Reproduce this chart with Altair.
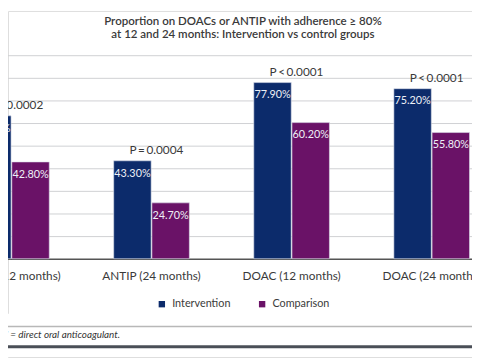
import altair as alt
import pandas as pd

groups = ["ANTIP (12 months)", "ANTIP (24 months)", "DOAC (12 months)", "DOAC (24 months)"]
series = ["Intervention", "Comparison"]
intervention = [63.2, 43.3, 77.9, 75.2]
comparison = [42.8, 24.7, 60.2, 55.8]
p_values = ["P\u2009=\u20090.0002", "P\u2009=\u20090.0004", "P\u2009<\u20090.0001", "P\u2009<\u20090.0001"]
title_lines = ["Proportion on DOACs or ANTIP with adherence \u2265 80%",
               "at 12 and 24 months: Intervention vs control groups"]
footnote = "DOAC = direct oral anticoagulant."
colors = ["#0c2b6b", "#6a1267"]
grid_values = [10, 20, 30, 40, 50, 60, 70, 80, 90]

rows = []
for g, a, b in zip(groups, intervention, comparison):
    rows.append({"group": g, "series": "Intervention", "value": a, "label": f"{a:.2f}%"})
    rows.append({"group": g, "series": "Comparison", "value": b, "label": f"{b:.2f}%"})
bars_df = pd.DataFrame(rows)
p_df = pd.DataFrame({"group": groups, "value": intervention, "p": p_values})
grid_df = pd.DataFrame({"value": grid_values})

W, H = 472, 352
FONT = "Lato"
TEXT = "#3a3a3a"
PANEL = "#e1e2e4"

xscale = alt.Scale(domain=groups, range=[-67.75, 502.25], paddingInner=0.46, paddingOuter=0.23)
yscale = alt.Scale(domain=[0, 90], range=[252, 45], nice=False)
offscale = alt.Scale(domain=series, paddingInner=0.02)

x_axis = alt.Axis(title=None, orient="bottom", offset=-100, domainColor="#555555",
                  domainWidth=1.5, ticks=False, labelFont=FONT, labelFontSize=12,
                  labelColor=TEXT, labelPadding=12, labelAngle=0, grid=False)


def xe():
    return alt.X("group:N", scale=xscale, sort=groups, axis=x_axis)


def ye():
    return alt.Y("value:Q", scale=yscale, axis=None)


def oe():
    return alt.XOffset("series:N", scale=offscale, sort=series)


one = alt.Data(values=[{}])

white_bottom = alt.Chart(one).mark_rect(color="white").encode(
    x=alt.value(0), x2=alt.value(W), y=alt.value(308), y2=alt.value(H))

grid = alt.Chart(grid_df).mark_rule(color="#cfd0d3", strokeWidth=1, yOffset=0.5).encode(
    y=ye(), x=alt.value(0), x2=alt.value(W))

bars = alt.Chart(bars_df).mark_bar(stroke="#dde1ea", strokeWidth=0.6).encode(
    x=xe(),
    xOffset=oe(),
    y=ye(),
    color=alt.Color("series:N", sort=series,
                    scale=alt.Scale(domain=series, range=colors),
                    legend=alt.Legend(title=None, orient="none", legendX=151, legendY=292.5,
                                      direction="horizontal", symbolType="square",
                                      symbolSize=42, symbolStrokeWidth=0,
                                      labelFont=FONT, labelFontSize=11, labelColor=TEXT,
                                      labelOffset=5, columnPadding=26)),
)

value_labels = alt.Chart(bars_df).mark_text(
    font=FONT, fontSize=11, color="#eef0f6", baseline="middle", dy=13
).encode(x=xe(), xOffset=oe(), y=ye(), text="label:N")

p_labels = alt.Chart(p_df).mark_text(
    font=FONT, fontSize=12, color=TEXT, baseline="middle", dy=-11, dx=5
).encode(x=xe(), y=ye(), text="p:N")

title = alt.Chart(one).mark_text(
    font=FONT, fontSize=11.7, fontWeight=600, color=TEXT, baseline="top", align="center",
    lineHeight=14
).encode(x=alt.value(239), y=alt.value(5), text=alt.value(title_lines))

rule_thin = alt.Chart(one).mark_rule(color="#b8b8b8", strokeWidth=1.5).encode(
    x=alt.value(0), x2=alt.value(W), y=alt.value(321))
rule_thick = alt.Chart(one).mark_rule(color="#4a4f57", strokeWidth=3).encode(
    x=alt.value(0), x2=alt.value(W), y=alt.value(341.5))

foot = alt.Chart(one).mark_text(
    font=FONT, fontSize=10, fontStyle="italic", color="#333333", align="right",
    baseline="middle"
).encode(x=alt.value(114), y=alt.value(330), text=alt.value(footnote))

chart = alt.layer(
    white_bottom, grid, bars, value_labels, p_labels, title, rule_thin, rule_thick, foot
).properties(
    width=W, height=H, autosize=alt.AutoSizeParams(type="none"),
    padding={"left": 0, "top": 0, "right": 0, "bottom": 0},
).configure_view(fill=PANEL, strokeWidth=0).configure(background="white")

chart.save("out.html", embed_options={"renderer": "svg", "actions": False})
